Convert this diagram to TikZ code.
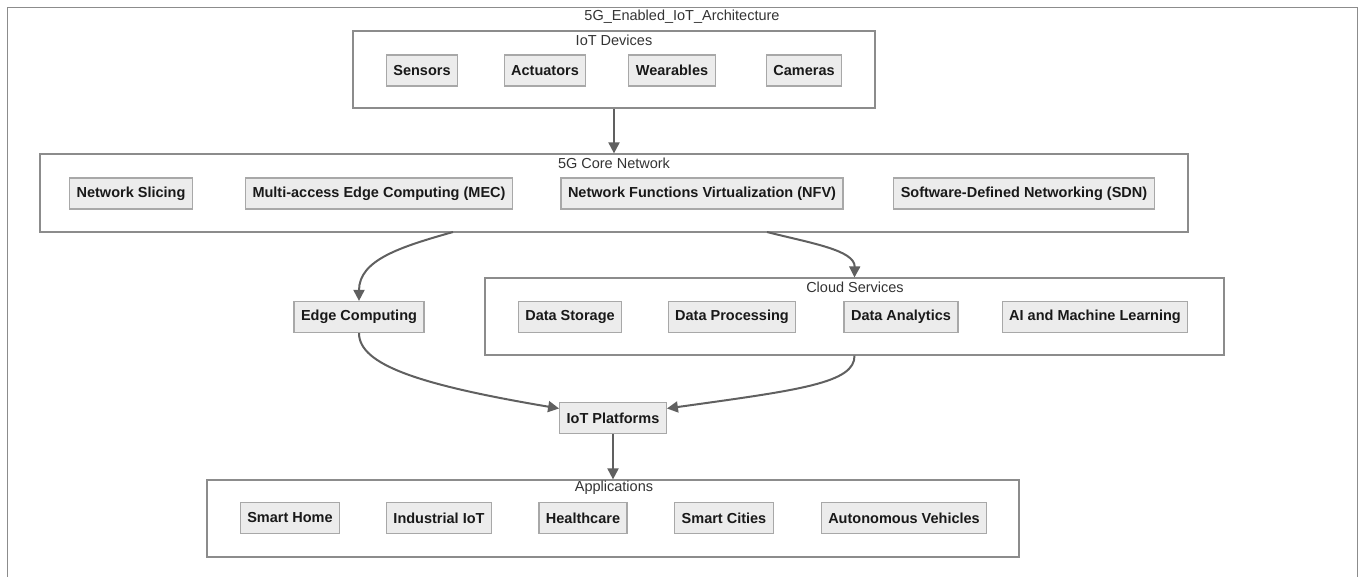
\documentclass[tikz,border=0pt]{standalone}
\usepackage{fontspec}
\setmainfont{Liberation Sans}
\usetikzlibrary{arrows.meta}

\definecolor{boxfill}{HTML}{ECECEC}
\definecolor{boxline}{HTML}{A8A8A8}
\definecolor{grpline}{HTML}{8C8C8C}
\definecolor{arrowc}{HTML}{606060}
\definecolor{titletext}{HTML}{333333}

\begin{document}
\begin{tikzpicture}[x=0.5pt,y=-0.5pt,
  item/.style={draw=boxline,fill=boxfill,line width=0.6pt,minimum height=15.5pt,
    inner xsep=3.5pt,font=\fontsize{7.25}{8.7}\selectfont\bfseries,text=black!90},
  group/.style={draw=grpline,line width=0.6pt,inner sep=0pt},
  grouptitle/.style={font=\fontsize{7.25}{8.7}\selectfont,text=titletext,inner sep=0pt},
  flow/.style={draw=arrowc,line width=1pt,-{Triangle[length=5.5pt,width=5.5pt]}}]

  \useasboundingbox (0,0) rectangle (1364,577);

  % outer frame
  \draw[grpline,line width=0.5pt] (7,577) |- (1357,8) -- (1357,577);

  \node[grouptitle] (title) at (682,17) {5G\_Enabled\_IoT\_Architecture};

  % IoT devices
  \node[group,minimum width=261pt,minimum height=38.5pt] (devices) at (614,69.5) {};

  \node[grouptitle] (devicestitle) at (614,40) {IoT Devices};

  \node[item] (sensors) at (422,70.5) {Sensors};

  \node[item] (actuators) at (545,70.5) {Actuators};

  \node[item] (wearables) at (672,70.5) {Wearables};

  \node[item] (cameras) at (804,70.5) {Cameras};

  % 5G core
  \node[group,minimum width=574pt,minimum height=39pt] (core) at (614,193) {};

  \node[grouptitle] (coretitle) at (614,163) {5G Core Network};

  \node[item] (slicing) at (131,193.5) {Network Slicing};

  \node[item] (mec) at (379,193.5) {Multi-access Edge Computing (MEC)};

  \node[item] (nfv) at (702,193.5) {Network Functions Virtualization (NFV)};

  \node[item] (sdn) at (1024,193.5) {Software-Defined Networking (SDN)};

  \coordinate (coreleft) at (453,232);

  \coordinate (coreright) at (767,232);

  % edge and cloud
  \node[item] (edge) at (359,317) {Edge Computing};

  \node[group,minimum width=369.5pt,minimum height=38.5pt] (cloud) at (854.5,316.5) {};

  \node[grouptitle] (cloudtitle) at (855,287) {Cloud Services};

  \node[item] (storage) at (570,317) {Data Storage};

  \node[item] (processing) at (732,317) {Data Processing};

  \node[item] (analytics) at (901,317) {Data Analytics};

  \node[item] (ai) at (1095,317) {AI and Machine Learning};

  % platforms and applications
  \node[item] (platforms) at (613,418) {IoT Platforms};

  \node[group,minimum width=406pt,minimum height=38.5pt] (apps) at (613,518.5) {};

  \node[grouptitle] (appstitle) at (614,488) {Applications};

  \node[item] (home) at (290,518) {Smart Home};

  \node[item] (industrial) at (439,518) {Industrial IoT};

  \node[item] (health) at (583,518) {Healthcare};

  \node[item] (cities) at (724,518) {Smart Cities};

  \node[item] (vehicles) at (904,518) {Autonomous Vehicles};

  % Arrows
  \draw[flow] (devices.south) -- (core.north);
  \draw[flow] (coreleft) .. controls (400,247) and (359,260) .. (edge.north);
  \draw[flow] (coreright) .. controls (810,243) and (855,250) .. (cloud.north);
  \draw[flow] (edge.south) .. controls (359,365) and (420,385) .. (platforms.170);
  \draw[flow] (cloud.south) .. controls (855,383) and (800,390) .. (platforms.10);
  \draw[flow] (platforms.south) -- (apps.north);

\end{tikzpicture}
\end{document}
